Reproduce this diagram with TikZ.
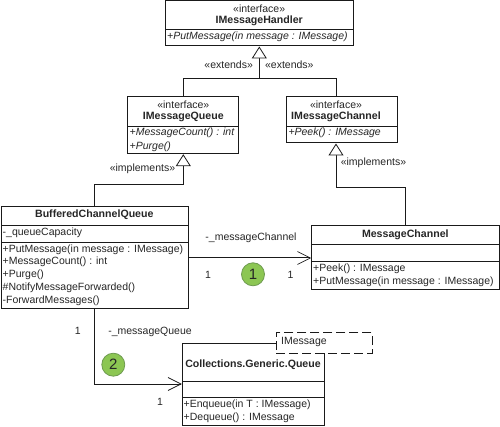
\documentclass[tikz,border=0pt]{standalone}
\usepackage{fontspec}
\setmainfont{Liberation Sans}
\usetikzlibrary{arrows.meta}
\definecolor{ink}{HTML}{1A1A1A}
\definecolor{txt}{HTML}{262626}
\definecolor{badge}{HTML}{8CC653}
\definecolor{badgeline}{HTML}{6E9A50}
\tikzset{
  txtbase/.style={inner sep=0pt,text=txt,font=\fontsize{10.5}{12}\selectfont},
  lbl/.style={txtbase,anchor=center},
  mem/.style={txtbase,anchor=west},
  memi/.style={txtbase,anchor=west,font=\fontsize{10.5}{12}\selectfont\itshape},
  ttl/.style={txtbase,anchor=center,font=\fontsize{10.6}{12}\selectfont\bfseries},
  umlbox/.style={draw=ink,line width=1pt,fill=white,inner sep=0pt,minimum width=#1},
  sep/.style={draw=ink,line width=1pt},
  conn/.style={draw=ink,line width=1pt},
  gen/.style={conn,-{Triangle[open,length=12pt,width=15pt,fill=white,line width=.8pt]}},
  assoc/.style={conn,-{Straight Barb[length=13pt,width=13pt,line width=.7pt]}},
  badgecirc/.style={circle,draw=badgeline,fill=badge,line width=.8pt,minimum size=23pt,inner sep=0pt,text=txt,font=\fontsize{15}{15}\selectfont},
  noteb/.style={draw=ink,dash pattern=on 9pt off 4pt,line width=1pt,fill=white,inner sep=0pt,minimum width=96pt,minimum height=20.3pt}
}
\begin{document}
\begin{tikzpicture}[x=1pt,y=-1pt]
\useasboundingbox[fill=white] (0,0) rectangle (500,427);

% boxes
\node[umlbox=187.7pt,minimum height=45pt] (handler) at (259.2,23.5) {};
\node[umlbox=110.7pt,minimum height=56.7pt] (iqueue) at (183.3,125.35) {};
\node[umlbox=110.3pt,minimum height=46pt] (ichannel) at (341.85,120) {};
\node[umlbox=186.5pt,minimum height=102.2pt] (bcq) at (94.75,257.6) {};
\node[umlbox=187.6pt,minimum height=64pt] (mchan) at (405.5,257.3) {};
\node[umlbox=141.7pt,minimum height=82.7pt] (gq) at (253.15,384.35) {};

% dividers
\draw[sep] (165.35,29.3) -- (353.05,29.3);
\draw[sep] (127.95,126.7) -- (238.65,126.7);
\draw[sep] (286.7,126.7) -- (397,126.7);
\draw[sep] (1.5,225.7) -- (188,225.7);
\draw[sep] (1.5,242.3) -- (188,242.3);
\draw[sep] (311.7,245) -- (499.3,245);
\draw[sep] (311.7,261.7) -- (499.3,261.7);
\draw[sep] (182.3,381) -- (324,381);
\draw[sep] (182.3,397.7) -- (324,397.7);

% note
\node[noteb] (note) at (324,342.9) {};
\node[mem] (notetext) at (281,342) {IMessage};

% texts
\node[lbl] (t1) at (259.2,8.7) {«interface»};
\node[ttl] (t2) at (259.2,20.7) {IMessageHandler};
\node[memi] (t3) at (167,36.7) {+PutMessage(in message : IMessage)};
\node[lbl] (t4) at (183.3,104.3) {«interface»};
\node[ttl] (t5) at (183.3,116.7) {IMessageQueue};
\node[memi] (t6) at (129.5,132.3) {+MessageCount() : int};
\node[memi] (t7) at (129.5,146.7) {+Purge()};
\node[lbl] (t8) at (336,104.3) {«interface»};
\node[ttl] (t9) at (336,116.7) {IMessageChannel};
\node[memi] (t10) at (288.3,132.3) {+Peek() : IMessage};
\node[ttl] (t11) at (94.3,215) {BufferedChannelQueue};
\node[mem] (t12) at (2.5,233) {-\_queueCapacity};
\node[mem] (t13) at (2.5,249.3) {+PutMessage(in message : IMessage)};
\node[mem] (t14) at (2.5,262) {+MessageCount() : int};
\node[mem] (t15) at (2.5,275) {+Purge()};
\node[mem] (t16) at (2.5,287.7) {\#NotifyMessageForwarded()};
\node[mem] (t17) at (2.5,300.3) {-ForwardMessages()};
\node[ttl] (t18) at (405.3,234.3) {MessageChannel};
\node[mem] (t19) at (313,268.3) {+Peek() : IMessage};
\node[mem] (t20) at (313,281.7) {+PutMessage(in message : IMessage)};
\node[ttl] (t21) at (253,365) {Collections.Generic.Queue};
\node[mem] (t22) at (183.5,405) {+Enqueue(in T : IMessage)};
\node[mem] (t23) at (183.5,417.7) {+Dequeue() : IMessage};

% connector junctions
\coordinate (hub) at (259.3,79);
\coordinate (hubL) at (183.3,79);
\coordinate (hubR) at (336,79);
\coordinate (qbendA) at (183.3,184.7);
\coordinate (qbendB) at (94.75,184.7);
\coordinate (cbendA) at (336,187.7);
\coordinate (cbendB) at (405.5,187.7);
\coordinate (abend) at (94.75,384);
\coordinate (assocy) at (250,258);

% connectors
\draw[conn] (iqueue.north -| hubL) -- (hubL) -- (hub);
\draw[conn] (ichannel.north -| hubR) -- (hubR) -- (hub);
\draw[gen] (hub) -- (handler.south -| hub);
\draw[gen] (bcq.north) -- (qbendB) -- (qbendA) -- (iqueue.south);
\draw[gen] (mchan.north) -- (cbendB) -- (cbendA) -- (ichannel.south -| cbendA);
\draw[assoc] (bcq.east |- assocy) -- (mchan.west |- assocy);
\draw[assoc] (bcq.south) -- (abend) -- (gq.west |- abend);

% labels
\node[lbl] (e1) at (228.7,64.7) {«extends»};
\node[lbl] (e2) at (289.3,64.7) {«extends»};
\node[lbl] (i1) at (142.5,169) {«implements»};
\node[lbl] (i2) at (373.5,163) {«implements»};
\node[lbl] (a1) at (251,238) {-\_messageChannel};
\node[lbl] (a2) at (208,275) {1};
\node[lbl] (a3) at (290.5,275) {1};
\node[lbl] (a4) at (77.7,331) {1};
\node[lbl] (a5) at (150,331.5) {-\_messageQueue};
\node[lbl] (a6) at (160,402) {1};
\node[badgecirc] (b1) at (253,274.3) {1};
\node[badgecirc] (b2) at (113.3,364.7) {2};
\end{tikzpicture}
\end{document}
